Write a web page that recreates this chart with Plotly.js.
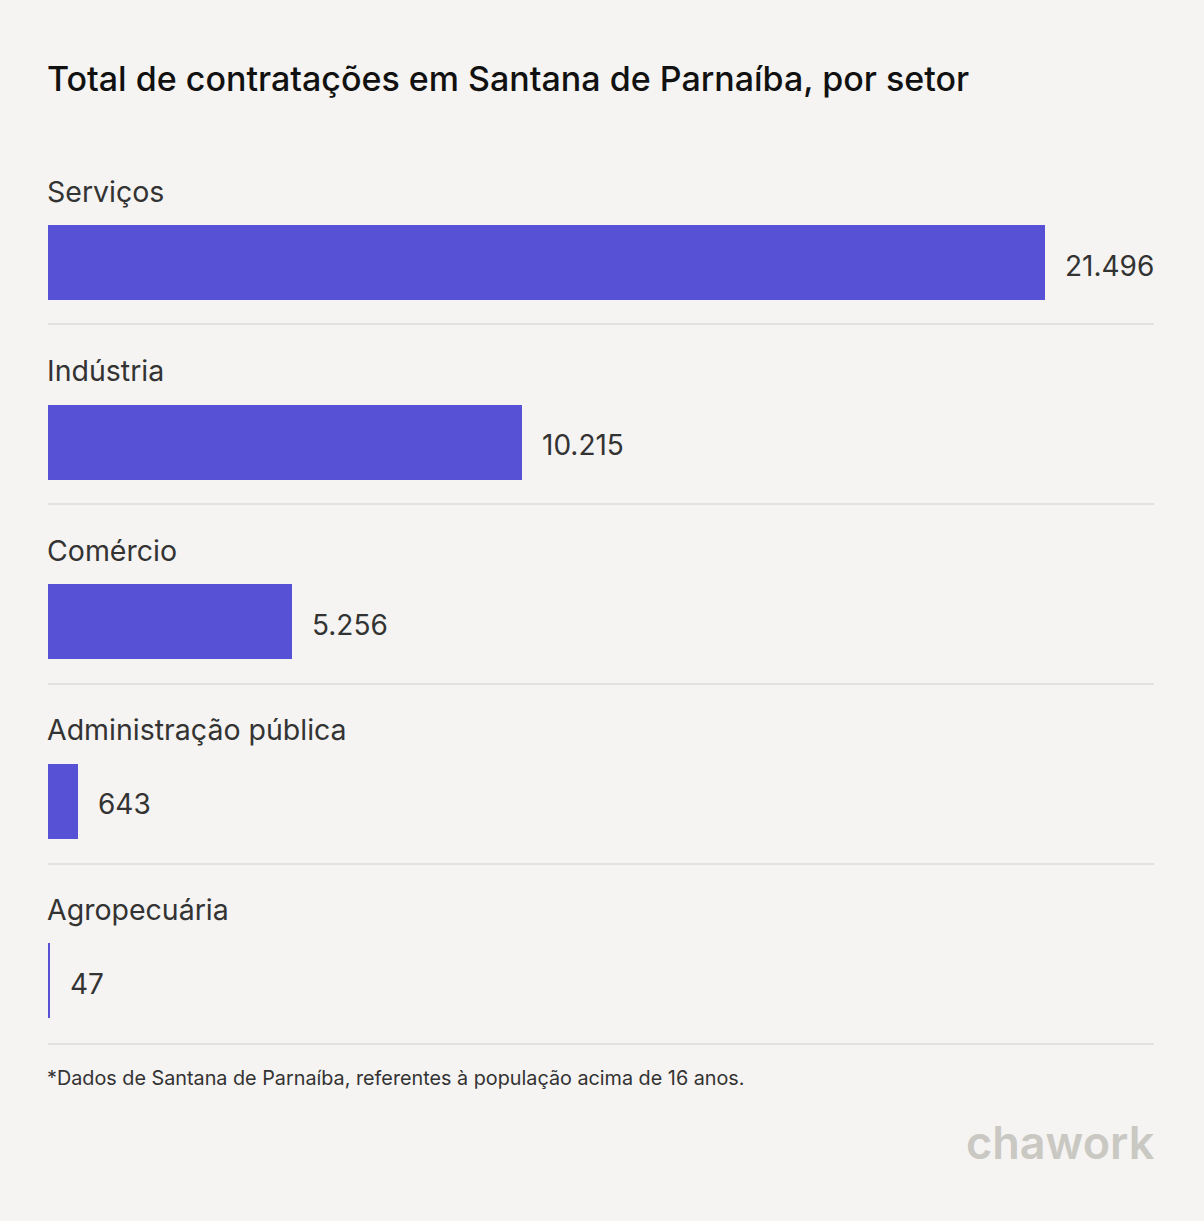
<!DOCTYPE html>
<html>
<head>
<meta charset="utf-8">
<script src="https://cdn.plot.ly/plotly-3.0.1.min.js"></script>
<style>
html,body{margin:0;padding:0;background:#f5f4f2;}
#chart{width:1204px;height:1221px;}
</style>
</head>
<body>
<div id="chart"></div>
<script>
const categories = ["Serviços", "Indústria", "Comércio", "Administração pública", "Agropecuária"];
const values = [21496, 10215, 5256, 643, 47];
const valueLabels = ["21.496", "10.215", "5.256", "643", "47"];

const titleText = "Total de contratações em Santana de Parnaíba, por setor";
const footnote = "*Dados de Santana de Parnaíba, referentes à população acima de 16 anos.";

const slots = categories.map((c, i) => i);

const barColor = "#5752d5";
const bg = "#f5f4f2";
const font = "Inter, 'Noto Sans', sans-serif";

const trace = {
  type: "bar",
  orientation: "h",
  x: values,
  y: slots,
  width: 0.418,
  marker: {color: barColor, line: {width: 0}},
  hoverinfo: "none"
};

const annotations = categories.map((c, i) => ({
  xref: "paper", yref: "y",
  x: 0, y: i - 0.398,
  xanchor: "left", yanchor: "middle",
  xshift: -3,
  text: c, showarrow: false,
  font: {family: font, size: 28.5, color: "#333333"}
}));

values.forEach((v, i) => annotations.push({
  xref: "x", yref: "y",
  x: v, y: i,
  xanchor: "left", yanchor: "middle",
  xshift: 18, yshift: -3,
  text: valueLabels[i], showarrow: false,
  font: {family: font, size: 28, color: "#333333"}
}));

annotations.push({
  xref: "paper", yref: "paper",
  x: 0, y: 1, xanchor: "left", yanchor: "middle",
  xshift: -3,
  text: titleText, showarrow: false,
  font: {family: font, size: 34, weight: 500, color: "#111111"},
  yshift: 140 - 78
});
annotations.push({
  xref: "paper", yref: "paper",
  x: 0, y: 0, xanchor: "left", yanchor: "middle",
  xshift: -3,
  text: footnote, showarrow: false,
  font: {family: font, size: 19.8, color: "#333333"},
  yshift: 1221 - 161 - 1078
});
annotations.push({
  xref: "paper", yref: "paper",
  x: 1, y: 0, xanchor: "right", yanchor: "middle",
  xshift: 3,
  text: "chawork", showarrow: false,
  font: {family: font, size: 45, weight: 600, color: "#cac8c2"},
  yshift: 1221 - 161 - 1142
});

const shapes = slots.map(i => {
  const yy = i + (324 + 180 * i - 262.5 - 179.5 * i) / 179.5;
  return {
    type: "line", xref: "paper", yref: "y",
    x0: 0, x1: 1, y0: yy, y1: yy,
    line: {color: "#dddcd8", width: 1.5}
  };
});

const layout = {
  width: 1204, height: 1221,
  paper_bgcolor: bg, plot_bgcolor: bg,
  margin: {l: 48, r: 50, t: 140, b: 161},
  showlegend: false,
  bargap: 0,
  xaxis: {range: [0, 23846], visible: false, fixedrange: true},
  yaxis: {range: [4.4428, -0.6825], visible: false, fixedrange: true},
  annotations: annotations,
  shapes: shapes,
  font: {family: font}
};

Plotly.newPlot("chart", [trace], layout, {displayModeBar: false, staticPlot: true});
</script>
</body>
</html>
